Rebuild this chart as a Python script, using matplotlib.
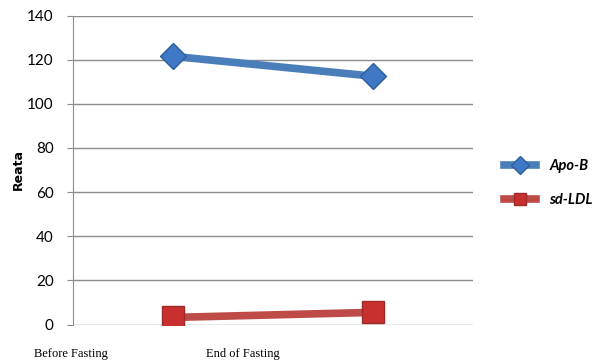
import matplotlib.pyplot as plt
import numpy as np

# Données
categories = ['Before Fasting', 'End of Fasting']
apo_b = [121.5, 112.5]
sd_ldl = [3.2, 5.5]

fig = plt.figure(figsize=(6, 3.61), dpi=100)
ax = fig.add_axes([73 / 600, 1 - 324.5 / 361, 400 / 600, 309 / 361])

x = np.arange(len(categories))
ax.plot(x, apo_b, color='#4a7ebb', linewidth=5.5, marker='D', markersize=13,
        markerfacecolor='#3f78c4', markeredgecolor='#2d5f9e', label='Apo-B')
ax.plot(x, sd_ldl, color='#be4b48', linewidth=5.5, marker='s', markersize=16,
        markerfacecolor='#c8302f', markeredgecolor='#9c2b28', label='sd-LDL')

ax.set_xlim(-0.5, 1.5)
ax.set_ylim(0, 140)
ax.set_yticks(np.arange(0, 141, 20))
ax.yaxis.grid(True, color='#8c8c8c', linewidth=1)
ax.set_axisbelow(True)
for s in ['top', 'right', 'bottom']:
    ax.spines[s].set_visible(False)
ax.spines['left'].set_color('#8c8c8c')
ax.tick_params(axis='y', length=4, color='#8c8c8c', labelsize=11, pad=10)
for lbl in ax.get_yticklabels():
    lbl.set_family('Lato')
ax.set_xticks([])

# titre de l'axe y
fig.text(18 / 600, 1 - 170 / 361, 'Reata', fontsize=9, fontweight='bold',
         rotation=90, ha='center', va='center')

# étiquettes d'axe x (décalées comme dans l'original)
fig.text(71 / 600, 1 - 354 / 361, categories[0], family='Liberation Serif',
         fontsize=9, ha='center', va='center')
fig.text(243 / 600, 1 - 354 / 361, categories[1], family='Liberation Serif',
         fontsize=9, ha='center', va='center')

leg = fig.legend(loc='center left', bbox_to_anchor=(491 / 600, 1 - 183 / 361),
                 frameon=False, handlelength=2.2, handletextpad=0.9,
                 labelspacing=1.4,
                 prop={'family': 'Lato', 'style': 'italic', 'weight': 'bold',
                       'size': 10.5})
for h in leg.legend_handles:
    h.set_markersize(9)

fig.savefig('out.png', dpi=100)
